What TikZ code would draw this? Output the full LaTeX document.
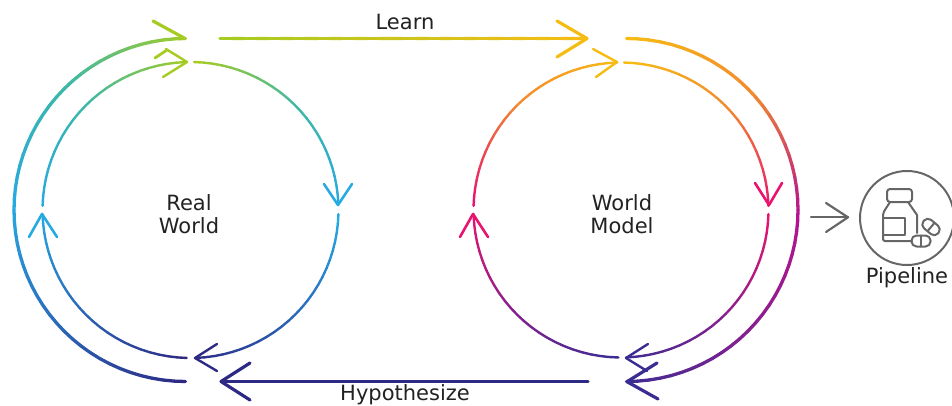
\documentclass[tikz,border=0pt]{standalone}
\usepackage{fontspec}
\setmainfont{DejaVu Sans}
\usetikzlibrary{calc}
\definecolor{cGreen}{HTML}{A6CC22}
\definecolor{cTeal}{HTML}{3DB8A6}
\definecolor{cCyan}{HTML}{27A9E1}
\definecolor{cBlue}{HTML}{2A66B8}
\definecolor{cIndigo}{HTML}{2E2A84}
\definecolor{cYellow}{HTML}{F6BC14}
\definecolor{cOrange}{HTML}{F28A2E}
\definecolor{cPink}{HTML}{E8146F}
\definecolor{cMagenta}{HTML}{B5128F}
\definecolor{cPurple}{HTML}{85208F}
\definecolor{cViolet}{HTML}{3A2D92}
\definecolor{cGray}{HTML}{666666}
\definecolor{cText}{HTML}{222222}
\tikzset{
  label text/.style={text=cText,font=\fontsize{21}{23}\selectfont,align=center,inner sep=0pt},
  icon line/.style={draw=cGray,line width=2pt,line join=round,line cap=round},
  chevron/.style={line cap=round,line join=round,fill=none}
}
% center, radius, angle from, angle to, 3 colour stops, line width
\newcommand{\gradarc}[8]{%
  \foreach \k in {0,...,23}{%
    \pgfmathsetmacro\angA{#3+(#4-#3)*\k/24}%
    \pgfmathsetmacro\angB{#3+(#4-#3)*(\k+1)/24}%
    \ifnum\k<12
      \pgfmathtruncatemacro\pp{100*\k/12}\colorlet{cc}{#6!\pp!#5}%
    \else
      \pgfmathtruncatemacro\pp{100*(\k-12)/12}\colorlet{cc}{#7!\pp!#6}%
    \fi
    \draw[cc,line width=#8,line cap=round] ($(#1)+(\angA:#2)$) -- ($(#1)+(\angB:#2)$);
  }%
}
% from, to, colour from, colour to, line width
\newcommand{\gradline}[5]{%
  \foreach \k in {0,...,29}{%
    \pgfmathsetmacro\ta{\k/30}\pgfmathsetmacro\tb{(\k+1)/30}%
    \pgfmathtruncatemacro\pp{100*\k/29}\colorlet{cc}{#4!\pp!#3}%
    \draw[cc,line width=#5,line cap=round] ($(#1)!\ta!(#2)$) -- ($(#1)!\tb!(#2)$);
  }%
}
\begin{document}
\begin{tikzpicture}[x=1pt,y=-1pt]
\useasboundingbox (0,0) rectangle (952,406);
% centres
\coordinate (LI) at (190.5,210);
\coordinate (LO) at (185.5,210);
\coordinate (RI) at (621,210);
\coordinate (RO) at (626.5,210);
% left inner ring
\gradarc{LI}{148}{271.4}{357.6}{cGreen}{cTeal}{cCyan}{2.4pt}
\gradarc{LI}{148}{1.6}{88}{cCyan}{cBlue}{cIndigo}{2.4pt}
\gradarc{LI}{148}{91.5}{178.4}{cIndigo}{cBlue}{cCyan}{2.4pt}
\gradarc{LI}{148}{181.6}{268}{cCyan}{cTeal}{cGreen}{2.4pt}
% left outer ring
\gradarc{LO}{171.5}{90}{180}{cIndigo}{cBlue}{cCyan}{3.3pt}
\gradarc{LO}{171.5}{180}{270}{cCyan}{cTeal}{cGreen}{3.3pt}
% right inner ring
\gradarc{RI}{147.5}{271.2}{358.4}{cYellow}{cOrange}{cPink}{2.4pt}
\gradarc{RI}{147.5}{1.6}{88}{cPink}{cPurple}{cViolet}{2.4pt}
\gradarc{RI}{147.5}{91}{178.4}{cViolet}{cPurple}{cPink}{2.4pt}
\gradarc{RI}{147.5}{181.6}{268.5}{cPink}{cOrange}{cYellow}{2.4pt}
% right outer ring
\gradarc{RO}{171.5}{270}{360}{cYellow}{cOrange}{cMagenta}{3.3pt}
\gradarc{RO}{171.5}{0}{90}{cMagenta}{cPurple}{cViolet}{3.3pt}
% straight connectors
\coordinate (learnS) at (220,38.5);
\coordinate (learnE) at (586,38.5);
\coordinate (hypS) at (588,381.5);
\coordinate (hypE) at (222,381.5);
\gradline{learnS}{learnE}{cGreen}{cYellow}{3.4pt}
\draw[cIndigo,line width=3.4pt,line cap=round] (hypS) -- (hypE);
% arrow heads: left ring
\draw[chevron,cGreen,line width=3.2pt] (153,21) -- (185,38.5);
\draw[chevron,cGreen,line width=2.8pt] (155,58) -- (167,50);
\draw[chevron,cGreen,line width=2.4pt] (166,49) -- (187,62) -- (163,77);
\draw[chevron,cCyan,line width=2.6pt] (324,184) -- (338,205) -- (352,184);
\draw[chevron,cIndigo,line width=2.4pt] (217,344) -- (195,358) -- (217,371);
\draw[chevron,cCyan,line width=2.6pt] (29,237) -- (42,214) -- (57,237);
% arrow heads: straight connectors
\draw[chevron,cIndigo,line width=3.2pt] (250,363) -- (221,381.5) -- (250,400);
\draw[chevron,cYellow,line width=3.2pt] (557,21) -- (587,38.5) -- (557,57);
% arrow heads: right ring
\draw[chevron,cYellow,line width=2.4pt] (593,49) -- (617,62) -- (596,77);
\draw[chevron,cPink,line width=2.6pt] (755,183) -- (769,205) -- (782,183);
\draw[chevron,cViolet,line width=2.4pt] (648,344) -- (626,358) -- (647,371);
\draw[chevron,cPink,line width=2.6pt] (460,237) -- (473,214) -- (488,237);
\draw[chevron,cViolet,line width=3.2pt] (657,363) -- (627,381.7) -- (658,399);
% labels
\node[label text] (learn) at (405,22) {Learn};
\node[label text] (hyp) at (405,395) {Hypothesize};
\node[label text] (real) at (189,214) {Real\\World};
\node[label text] (model) at (622,214) {World\\Model};
\node[label text] (pipeLabel) at (907,278) {Pipeline};
% pipeline icon
\node[circle,draw=cGray,line width=2pt,minimum size=94pt,inner sep=0pt] (pipe) at (907,218) {};
\coordinate (toPipeS) at (811,217.3);
\coordinate (toPipeE) at (848,217.3);
\draw[cGray,line width=2.2pt,line cap=round] (toPipeS) -- (toPipeE);
\draw[chevron,cGray,line width=2.2pt] (826,203) -- (848,217.3) -- (826,232);
\draw[icon line,rounded corners=3pt] (887,189) rectangle (912,202);
\draw[icon line,rounded corners=2pt] (912,241) -- (883,241) -- (883,213) -- (890,202);
\draw[icon line] (908,202) -- (917,215) -- (917,233);
\draw[icon line] (883,218) rectangle (905,235);
\draw[icon line,rounded corners=5pt] (911.5,235.5) rectangle (930.5,246.5);
\draw[icon line] (921,235.5) -- (921,246.5);
\begin{scope}[shift={(931,227)},rotate=-40]
  \draw[icon line,rounded corners=5pt] (-9.5,-5.5) rectangle (9.5,5.5);
  \draw[icon line] (0,-5.5) -- (0,5.5);
\end{scope}
\end{tikzpicture}
\end{document}
